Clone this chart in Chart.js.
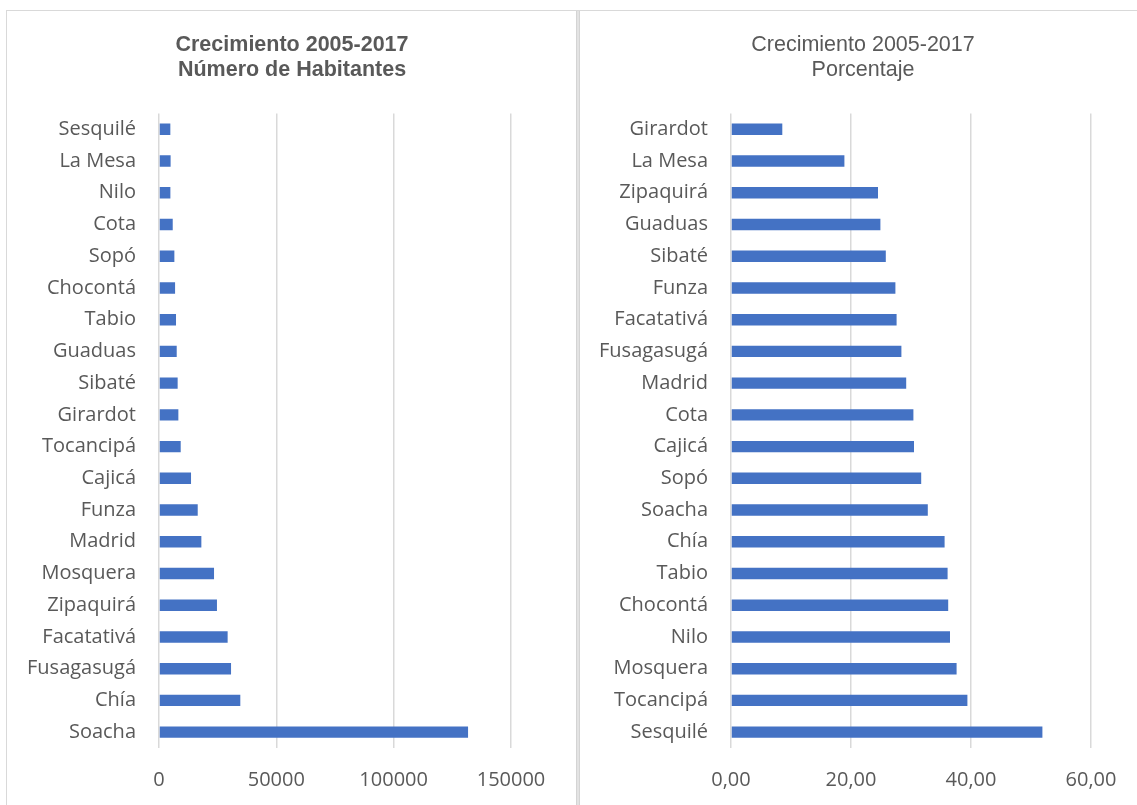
<!DOCTYPE html>
<html>
<head>
<meta charset="utf-8">
<script src="https://cdn.jsdelivr.net/npm/chart.js@4/dist/chart.umd.min.js"></script>
<style>
  html, body { margin: 0; padding: 0; background: #fff; overflow: hidden; }
  body { width: 1137px; height: 805px; position: relative; }
  .frame { position: absolute; left: 6px; top: 10px; width: 1140px; height: 800px;
           border-top: 1px solid #d9d9d9; border-left: 1px solid #d9d9d9; }
  .sep { position: absolute; left: 576px; top: 11px; width: 4px; height: 794px;
         background: #e3e3e3; border-left: 1px solid #d4d4d4; border-right: 1px solid #d4d4d4; box-sizing: border-box; }
  .box { position: absolute; top: 11px; height: 801px; }
  #leftBox { left: 7px; width: 569px; }
  #rightBox { left: 580px; width: 557px; }
</style>
</head>
<body>
<div class="frame"></div>
<div class="sep"></div>
<div class="box" id="leftBox"><canvas id="habChart"></canvas></div>
<div class="box" id="rightBox"><canvas id="pctChart"></canvas></div>
<script>
// Crecimiento 2005-2017, número de habitantes (de arriba hacia abajo)
const habMunicipios = ['Sesquilé', 'La Mesa', 'Nilo', 'Cota', 'Sopó', 'Chocontá', 'Tabio', 'Guaduas', 'Sibaté', 'Girardot',
    'Tocancipá', 'Cajicá', 'Funza', 'Madrid', 'Mosquera', 'Zipaquirá', 'Facatativá', 'Fusagasugá', 'Chía', 'Soacha'];
const habValores = [4830, 4950, 4850, 5850, 6550, 6850, 7250, 7550, 7950, 8250,
    9250, 13650, 16500, 18050, 23450, 24700, 29250, 30700, 34650, 131700];
const habTicks = [0, 50000, 100000, 150000];

// Crecimiento 2005-2017, porcentaje
const pctMunicipios = ['Girardot', 'La Mesa', 'Zipaquirá', 'Guaduas', 'Sibaté', 'Funza', 'Facatativá', 'Fusagasugá', 'Madrid', 'Cota',
    'Cajicá', 'Sopó', 'Soacha', 'Chía', 'Tabio', 'Chocontá', 'Nilo', 'Mosquera', 'Tocancipá', 'Sesquilé'];
const pctValores = [8.55, 18.9, 24.5, 24.9, 25.8, 27.4, 27.6, 28.4, 29.2, 30.4,
    30.5, 31.7, 32.8, 35.6, 36.1, 36.2, 36.5, 37.6, 39.4, 51.9];
const pctTicks = [0, 20, 40, 60];

const GRIS = '#595959';
const AZUL = '#4472C4';

// el título de Excel no queda centrado sobre el canvas: se mueve después del layout
const moverTitulo = {
    id: 'moverTitulo',
    afterLayout(chart) {
        const t = chart.titleBlock;
        const centro = chart.options.plugins.moverTitulo.centro;
        const d = centro - (t.left + t.right) / 2;
        t.left += d;
        t.right += d;
    }
};

// axisW: distancia del borde del canvas al eje 0
function makeChart(id, labels, data, ticks, max, title, bold, titleCenter, padRight, axisW, fmt) {
    const ctx = document.getElementById(id).getContext('2d');
    return new Chart(ctx, {
        type: 'bar',
        data: {
            labels: labels,
            datasets: [{
                data: data,
                backgroundColor: AZUL,
                barPercentage: 0.36,
                categoryPercentage: 1
            }]
        },
        plugins: [moverTitulo],
        options: {
            indexAxis: 'y',
            responsive: true,
            maintainAspectRatio: false,
            animation: false,
            layout: { padding: { left: 0, right: padRight, top: 0, bottom: 0 } },
            plugins: {
                legend: { display: false },
                tooltip: { enabled: false },
                moverTitulo: { centro: titleCenter },
                title: {
                    display: true,
                    text: title,
                    color: GRIS,
                    font: { family: '"Liberation Sans", Arial, sans-serif', size: 21.5, weight: bold ? 'bold' : 'normal', lineHeight: 1.15 },
                    padding: { top: 22, bottom: 31 }
                }
            },
            scales: {
                x: {
                    min: 0,
                    max: max,
                    afterBuildTicks: (s) => { s.ticks = ticks.map(v => ({ value: v })); },
                    grid: { color: '#d9d9d9', lineWidth: 1.5, drawTicks: false },
                    border: { display: false },
                    ticks: {
                        color: GRIS,
                        padding: 20,
                        font: { family: '"Open Sans", sans-serif', size: 20 },
                        callback: fmt
                    }
                },
                y: {
                    // marcas invisibles para separar las etiquetas del eje
                    grid: { display: true, drawOnChartArea: false, drawTicks: true, tickLength: 23, color: 'rgba(0,0,0,0)' },
                    border: { display: false },
                    afterFit: (s) => { s.width = axisW; },
                    ticks: {
                        color: GRIS,
                        padding: 0,
                        autoSkip: false,
                        font: { family: '"Open Sans", sans-serif', size: 20 }
                    }
                }
            }
        }
    });
}

document.addEventListener('DOMContentLoaded', () => {
    makeChart('habChart', habMunicipios, habValores, habTicks, 150000,
        ['Crecimiento 2005-2017', 'Número de Habitantes'], true, 285, 65, 152,
        (v) => String(v));
    makeChart('pctChart', pctMunicipios, pctValores, pctTicks, 60,
        ['Crecimiento 2005-2017', 'Porcentaje'], false, 283, 46, 151,
        (v) => v.toFixed(2).replace('.', ','));
});
</script>
</body>
</html>
